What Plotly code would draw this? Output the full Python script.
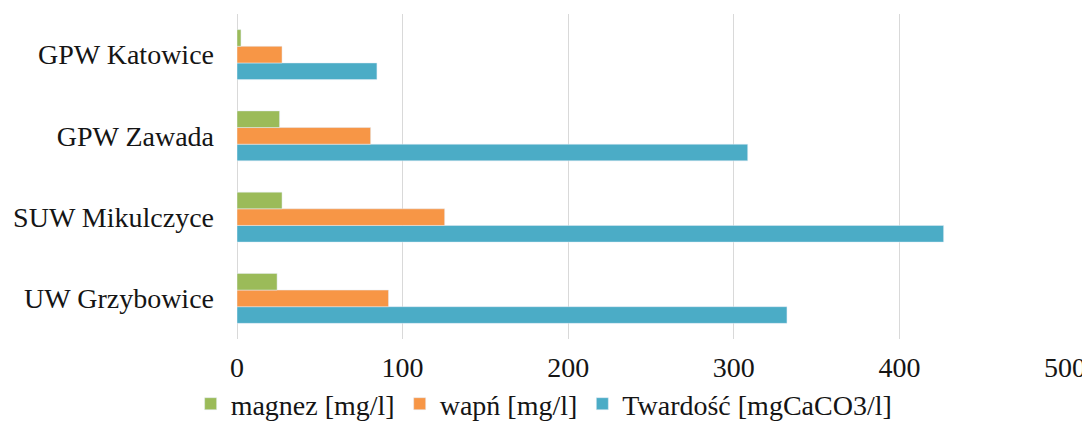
import plotly.graph_objects as go

stations = ["UW Grzybowice", "SUW Mikulczyce", "GPW Zawada", "GPW Katowice"]
magnez = [24.2, 27.2, 25.7, 2.4]
wapn = [91.5, 125.4, 80.7, 27.2]
twardosc = [332.1, 426.7, 308.4, 84.5]

serif = "Liberation Serif"
txt = dict(family=serif, size=28, color="#151515")

fig = go.Figure()
# plotly stacks group members bottom-up, so add the lowest bar first
fig.add_trace(go.Bar(name="Twardość [mgCaCO3/l]", y=stations, x=twardosc, orientation="h",
                     marker_color="#4BACC6"))
fig.add_trace(go.Bar(name="wapń [mg/l]", y=stations, x=wapn, orientation="h",
                     marker_color="#F79646"))
fig.add_trace(go.Bar(name="magnez [mg/l]", y=stations, x=magnez, orientation="h",
                     marker_color="#9BBB59"))

# the page puts the figure 8px in from the top-left corner
fig.update_layout(
    width=1082, height=415,
    margin=dict(l=229, r=25, t=6, b=84, autoexpand=False),
    barmode="group", bargap=0.385, bargroupgap=0,
    plot_bgcolor="white", paper_bgcolor="white",
    showlegend=True,
    legend=dict(orientation="h", traceorder="reversed", x=0.4955, xref="container",
                xanchor="center", y=1 - 396 / 415, yref="container", yanchor="middle",
                bgcolor="rgba(0,0,0,0)", itemwidth=30, font=txt),
)
fig.update_xaxes(range=[0, 500], dtick=100, showgrid=True, gridcolor="#D9D9D9",
                 zeroline=True, zerolinecolor="#D9D9D9", zerolinewidth=1,
                 showline=False, ticklabelstandoff=9, automargin=False, tickfont=txt)
fig.update_yaxes(showgrid=False, showline=False, ticklabelstandoff=22, automargin=False,
                 tickfont=txt)

fig.write_html("out.html")
